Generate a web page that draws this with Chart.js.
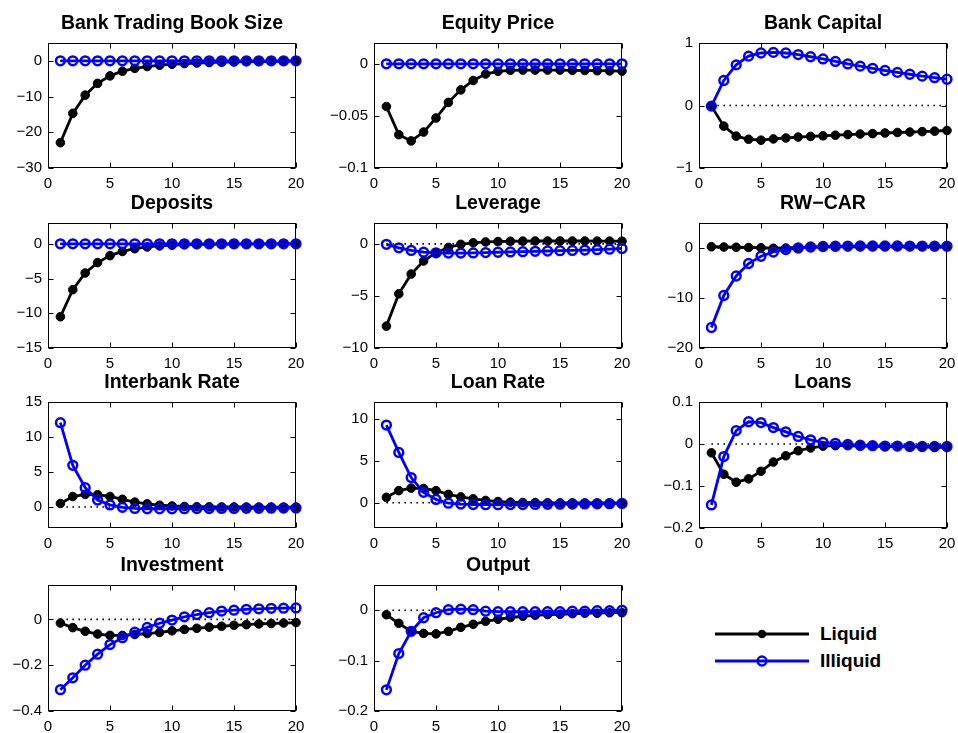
<!DOCTYPE html>
<html>
<head>
<meta charset="utf-8">
<script src="https://cdn.jsdelivr.net/npm/chart.js@4/dist/chart.umd.min.js"></script>
<style>
  html, body { margin: 0; padding: 0; background: #fff; overflow: hidden; }
  body { width: 958px; height: 733px; position: relative;
         font-family: "Liberation Sans", Arial, Helvetica, sans-serif; }
  canvas.panel { position: absolute; }
  .legend { position: absolute; left: 715px; top: 620px; }
  .legend .row { display: flex; align-items: center; height: 27px; }
  .legend svg { display: block; }
  .legend span { font-weight: bold; font-size: 19px; margin-left: 11px; color: #000; }
</style>
</head>
<body>
<div class="legend">
  <div class="row">
    <svg width="94" height="14"><line x1="0" y1="7" x2="94" y2="7" stroke="#000" stroke-width="2.8"/><circle cx="47" cy="7" r="4.3" fill="#000"/></svg>
    <span>Liquid</span>
  </div>
  <div class="row">
    <svg width="94" height="14"><line x1="0" y1="7" x2="94" y2="7" stroke="#0000ff" stroke-width="2.8"/><circle cx="47" cy="7" r="4.4" fill="none" stroke="#0000ff" stroke-width="2.5"/></svg>
    <span>Illiquid</span>
  </div>
</div>
<script>
// Impulse responses over 20 quarters, liquid vs illiquid trading book.
const periods = [1, 2, 3, 4, 5, 6, 7, 8, 9, 10, 11, 12, 13, 14, 15, 16, 17, 18, 19, 20];
const xTicks = [0, 5, 10, 15, 20];
const baseline = [0, 0, 0, 0, 0, 0, 0, 0, 0, 0, 0, 0, 0, 0, 0, 0, 0, 0, 0, 0];

const tradingBookLiquid   = [-22.9, -14.7, -9.6, -6.3, -4.2, -2.9, -2.1, -1.6, -1.2, -0.95, -0.75, -0.6, -0.47, -0.37, -0.3, -0.24, -0.19, -0.15, -0.12, -0.1];
const tradingBookIlliquid = [0, 0, 0, 0, 0, 0, 0, 0, 0, 0, 0, 0, 0, 0, 0, 0, 0, 0, 0, 0];
const tradingBookTicks    = [-30, -20, -10, 0];

const equityLiquid   = [-0.041, -0.068, -0.074, -0.0655, -0.052, -0.037, -0.025, -0.016, -0.0098, -0.0072, -0.0062, -0.006, -0.006, -0.006, -0.006, -0.0062, -0.0064, -0.0066, -0.0068, -0.007];
const equityIlliquid = [0, 0, 0, 0, 0, 0, 0, 0, 0, 0, 0, 0, 0, 0, 0, 0, 0, 0, 0, 0];
const equityTicks    = [-0.1, -0.05, 0];

const capitalLiquid   = [-0.01, -0.33, -0.49, -0.54, -0.555, -0.535, -0.52, -0.505, -0.495, -0.485, -0.475, -0.465, -0.457, -0.45, -0.44, -0.432, -0.425, -0.418, -0.41, -0.40];
const capitalIlliquid = [-0.01, 0.40, 0.65, 0.79, 0.84, 0.85, 0.84, 0.815, 0.78, 0.745, 0.705, 0.665, 0.63, 0.595, 0.56, 0.53, 0.50, 0.47, 0.445, 0.42];
const capitalTicks    = [-1, 0, 1];

const depositsLiquid   = [-10.5, -6.6, -4.2, -2.7, -1.7, -1.1, -0.7, -0.45, -0.3, -0.2, -0.13, -0.09, -0.06, -0.04, -0.03, -0.02, -0.015, -0.01, -0.008, -0.005];
const depositsIlliquid = [0, 0, 0, 0, 0, 0, 0, 0, 0, 0, 0, 0, 0, 0, 0, 0, 0, 0, 0, 0];
const depositsTicks    = [-15, -10, -5, 0];

const leverageLiquid   = [-7.9, -4.8, -2.9, -1.65, -0.85, -0.35, -0.05, 0.1, 0.18, 0.22, 0.25, 0.26, 0.27, 0.27, 0.27, 0.27, 0.27, 0.26, 0.26, 0.25];
const leverageIlliquid = [-0.05, -0.38, -0.63, -0.8, -0.86, -0.89, -0.89, -0.87, -0.84, -0.81, -0.78, -0.75, -0.72, -0.69, -0.66, -0.63, -0.6, -0.56, -0.51, -0.45];
const leverageTicks    = [-10, -5, 0];

const rwcarLiquid   = [0.25, 0.2, 0.15, 0.1, 0.05, -0.05, 0.0, 0.1, 0.15, 0.2, 0.22, 0.24, 0.25, 0.26, 0.27, 0.28, 0.28, 0.28, 0.28, 0.28];
const rwcarIlliquid = [-15.9, -9.5, -5.6, -3.1, -1.65, -0.8, -0.3, 0.0, 0.2, 0.3, 0.36, 0.38, 0.4, 0.4, 0.4, 0.4, 0.39, 0.38, 0.37, 0.36];
const rwcarTicks    = [-20, -10, 0];

const interbankLiquid   = [0.5, 1.5, 1.8, 1.75, 1.5, 1.1, 0.7, 0.45, 0.25, 0.15, 0.08, 0.04, 0.02, 0.01, 0.0, 0.0, -0.01, -0.01, -0.01, -0.01];
const interbankIlliquid = [12.05, 5.95, 2.75, 1.0, 0.3, -0.05, -0.2, -0.25, -0.25, -0.25, -0.24, -0.23, -0.22, -0.21, -0.2, -0.19, -0.18, -0.17, -0.16, -0.15];
const interbankTicks    = [0, 5, 10, 15];

const loanRateLiquid   = [0.65, 1.45, 1.75, 1.7, 1.45, 1.0, 0.7, 0.47, 0.28, 0.15, 0.08, 0.04, 0.02, 0.0, -0.01, -0.01, -0.02, -0.02, -0.02, -0.02];
const loanRateIlliquid = [9.25, 6.0, 3.0, 1.25, 0.4, -0.05, -0.15, -0.2, -0.22, -0.22, -0.21, -0.2, -0.19, -0.18, -0.16, -0.15, -0.13, -0.12, -0.1, -0.08];
const loanRateTicks    = [0, 5, 10];

const loansLiquid   = [-0.021, -0.072, -0.091, -0.083, -0.065, -0.043, -0.028, -0.016, -0.0095, -0.005, -0.004, -0.004, -0.005, -0.005, -0.006, -0.006, -0.007, -0.007, -0.008, -0.008];
const loansIlliquid = [-0.145, -0.03, 0.032, 0.053, 0.051, 0.039, 0.029, 0.018, 0.01, 0.004, 0.0015, -0.001, -0.003, -0.004, -0.005, -0.005, -0.006, -0.006, -0.006, -0.006];
const loansTicks    = [-0.2, -0.1, 0, 0.1];

const investmentLiquid   = [-0.016, -0.036, -0.052, -0.064, -0.07, -0.07, -0.066, -0.062, -0.057, -0.05, -0.044, -0.039, -0.034, -0.03, -0.026, -0.023, -0.02, -0.018, -0.016, -0.014];
const investmentIlliquid = [-0.307, -0.255, -0.2, -0.152, -0.11, -0.08, -0.056, -0.035, -0.017, -0.003, 0.011, 0.021, 0.029, 0.036, 0.04, 0.044, 0.046, 0.048, 0.049, 0.05];
const investmentTicks    = [-0.4, -0.2, 0];

const outputLiquid   = [-0.009, -0.026, -0.042, -0.046, -0.047, -0.042, -0.034, -0.028, -0.022, -0.018, -0.0145, -0.012, -0.01, -0.0085, -0.008, -0.007, -0.006, -0.006, -0.005, -0.005];
const outputIlliquid = [-0.158, -0.086, -0.042, -0.015, -0.005, 0.001, 0.002, 0.001, -0.002, -0.003, -0.003, -0.003, -0.003, -0.003, -0.003, -0.002, -0.002, -0.001, -0.001, 0.0];
const outputTicks    = [-0.2, -0.1, 0];

// Panel table: title, series, y range and ticks, grid slot (row, col)
const panels = [
  { title: 'Bank Trading Book Size', liquid: tradingBookLiquid, illiquid: tradingBookIlliquid, yMin: -30,  yMax: 5,    yTicks: tradingBookTicks, row: 0, col: 0 },
  { title: 'Equity Price',           liquid: equityLiquid,      illiquid: equityIlliquid,      yMin: -0.1, yMax: 0.02, yTicks: equityTicks,      row: 0, col: 1 },
  { title: 'Bank Capital',           liquid: capitalLiquid,     illiquid: capitalIlliquid,     yMin: -1,   yMax: 1,    yTicks: capitalTicks,     row: 0, col: 2 },
  { title: 'Deposits',               liquid: depositsLiquid,    illiquid: depositsIlliquid,    yMin: -15,  yMax: 3,    yTicks: depositsTicks,    row: 1, col: 0 },
  { title: 'Leverage',               liquid: leverageLiquid,    illiquid: leverageIlliquid,    yMin: -10,  yMax: 2,    yTicks: leverageTicks,    row: 1, col: 1 },
  { title: 'RW\u2212CAR',            liquid: rwcarLiquid,       illiquid: rwcarIlliquid,       yMin: -20,  yMax: 5,    yTicks: rwcarTicks,       row: 1, col: 2 },
  { title: 'Interbank Rate',         liquid: interbankLiquid,   illiquid: interbankIlliquid,   yMin: -3,   yMax: 15,   yTicks: interbankTicks,   row: 2, col: 0 },
  { title: 'Loan Rate',              liquid: loanRateLiquid,    illiquid: loanRateIlliquid,    yMin: -3,   yMax: 12,   yTicks: loanRateTicks,    row: 2, col: 1 },
  { title: 'Loans',                  liquid: loansLiquid,       illiquid: loansIlliquid,       yMin: -0.2, yMax: 0.1,  yTicks: loansTicks,       row: 2, col: 2 },
  { title: 'Investment',             liquid: investmentLiquid,  illiquid: investmentIlliquid,  yMin: -0.4, yMax: 0.15, yTicks: investmentTicks,  row: 3, col: 0 },
  { title: 'Output',                 liquid: outputLiquid,      illiquid: outputIlliquid,      yMin: -0.2, yMax: 0.05, yTicks: outputTicks,      row: 3, col: 1 }
];

// Grid geometry (plot-area corners in page pixels)
const colLeft   = [48, 374, 699];
const rowTop    = [43, 223, 402, 585];
const rowHeight = [125, 125, 126, 126];
const plotWidth = 248;
const sideBand  = 48;   // same margin left and right so the title centres over the plot
const titleBand = 40;
const xAxisBand = 28;

const FONT = '"Liberation Sans", Arial, Helvetica, sans-serif';
const minus = v => (v < 0 ? '\u2212' : '') + Math.abs(v);

// Closed box with inward tick marks on all four sides, drawn under the data
const boxPlugin = {
  id: 'boxedAxes',
  beforeDatasetsDraw(chart) {
    const { ctx, chartArea: a, scales: { x, y } } = chart;
    const len = 5;
    ctx.save();
    ctx.strokeStyle = '#000';
    ctx.lineWidth = 1;
    const L = Math.round(a.left) + 0.5, R = Math.round(a.right) - 0.5;
    const T = Math.round(a.top) + 0.5, B = Math.round(a.bottom) - 0.5;
    ctx.strokeRect(L, T, R - L, B - T);
    ctx.beginPath();
    x.ticks.forEach(t => {
      const px = Math.round(x.getPixelForValue(t.value)) + 0.5;
      ctx.moveTo(px, B); ctx.lineTo(px, B - len);
      ctx.moveTo(px, T); ctx.lineTo(px, T + len);
    });
    y.ticks.forEach(t => {
      const py = Math.round(y.getPixelForValue(t.value)) + 0.5;
      ctx.moveTo(L, py); ctx.lineTo(L + len, py);
      ctx.moveTo(R, py); ctx.lineTo(R - len, py);
    });
    ctx.stroke();
    ctx.restore();
  }
};

const toPoints = arr => periods.map((p, i) => ({ x: p, y: arr[i] }));

panels.forEach(p => {
  const h = rowHeight[p.row];
  const canvas = document.createElement('canvas');
  canvas.className = 'panel';
  const w = sideBand + plotWidth + sideBand;
  const ch = titleBand + h + xAxisBand;
  canvas.width = w;
  canvas.height = ch;
  canvas.style.width = w + 'px';
  canvas.style.height = ch + 'px';
  canvas.style.left = (colLeft[p.col] - sideBand) + 'px';
  canvas.style.top = (rowTop[p.row] - titleBand) + 'px';
  document.body.appendChild(canvas);

  new Chart(canvas, {
    type: 'line',
    data: {
      datasets: [
        {
          label: 'Illiquid',
          data: toPoints(p.illiquid),
          borderColor: '#0000ff',
          borderWidth: 2.8,
          pointRadius: 4.4,
          pointBorderWidth: 2.5,
          pointBorderColor: '#0000ff',
          pointBackgroundColor: 'rgba(0,0,0,0)',
          fill: false,
          clip: false,
          order: 0
        },
        {
          label: 'Liquid',
          data: toPoints(p.liquid),
          borderColor: '#000',
          borderWidth: 2.8,
          pointRadius: 4.3,
          pointBorderWidth: 1,
          pointBorderColor: '#000',
          pointBackgroundColor: '#000',
          fill: false,
          clip: false,
          order: 1
        },
        {
          label: 'zero',
          data: toPoints(baseline),
          borderColor: '#000',
          borderWidth: 1.6,
          borderDash: [1.6, 4.4],
          pointRadius: 0,
          fill: false,
          order: 2
        }
      ]
    },
    options: {
      responsive: false,
      animation: false,
      devicePixelRatio: 1,
      events: [],
      layout: { padding: 0 },
      plugins: {
        legend: { display: false },
        tooltip: { enabled: false },
        title: {
          display: true,
          text: p.title,
          color: '#000',
          font: { family: FONT, size: 19.5, weight: 'bold' },
          padding: { top: 9, bottom: 7.6 }
        }
      },
      scales: {
        x: {
          type: 'linear',
          min: 0, max: 20,
          afterBuildTicks: s => { s.ticks = xTicks.map(v => ({ value: v })); },
          afterFit: s => { s.height = xAxisBand; s.paddingLeft = 0; s.paddingRight = 0; },
          grid: { display: false, drawTicks: false },
          border: { display: false },
          ticks: { color: '#000', padding: 7, maxRotation: 0, font: { family: FONT, size: 15 }, callback: v => minus(v) }
        },
        y: {
          type: 'linear',
          position: 'left',
          min: p.yMin, max: p.yMax,
          afterBuildTicks: s => { s.ticks = p.yTicks.map(v => ({ value: v })); },
          afterFit: s => { s.width = sideBand; s.paddingTop = 0; s.paddingBottom = 0; },
          grid: { display: false, drawTicks: false },
          border: { display: false },
          ticks: { color: '#000', padding: 6, font: { family: FONT, size: 15 }, callback: v => minus(v) }
        },
        // empty right-hand band balancing the y-axis labels
        yRight: {
          type: 'linear',
          position: 'right',
          afterFit: s => { s.width = sideBand; s.paddingTop = 0; s.paddingBottom = 0; },
          grid: { display: false, drawTicks: false },
          border: { display: false },
          ticks: { display: false }
        }
      }
    },
    plugins: [boxPlugin]
  });
});
</script>
</body>
</html>
